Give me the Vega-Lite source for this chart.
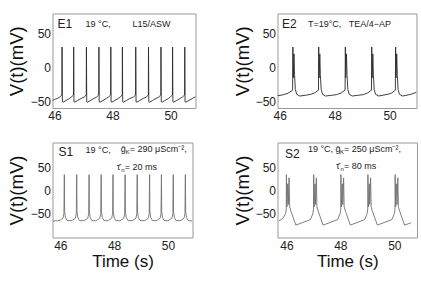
{
  "$schema": "https://vega.github.io/schema/vega-lite/v6.json",
  "padding": {"left": 6.5, "top": 12.5, "right": 5, "bottom": 5},
  "background": "white",
  "config": {
    "font": "Liberation Sans",
    "view": {"stroke": "#999", "strokeWidth": 1},
    "axis": {"ticks": false, "domain": false, "grid": false, "labelFontSize": 12, "labelColor": "#222", "titleFontWeight": "normal", "titleFontSize": 18.5, "titleColor": "#111", "labelFont": "Liberation Sans", "titleFont": "Liberation Sans"},
    "text": {"font": "Liberation Sans", "color": "#222"}
  },
  "datasets": {
    "e1": [
      {"t":45.93,"v":-48},{"t":46.0,"v":-46.5},{"t":46.1,"v":-45},{"t":46.18,"v":-43},{"t":46.254,"v":-40},{"t":46.26,"v":30},{"t":46.27,"v":-50},{"t":46.3,"v":-50.5},{"t":46.4,"v":-48},{"t":46.52,"v":-45},{"t":46.58,"v":-43},{"t":46.654,"v":-40},{"t":46.66,"v":30},{"t":46.67,"v":-50},{"t":46.7,"v":-50.5},{"t":46.8,"v":-48},{"t":46.92,"v":-45},{"t":47.02,"v":-43},{"t":47.094,"v":-40},{"t":47.1,"v":30},{"t":47.11,"v":-50},{"t":47.14,"v":-50.5},{"t":47.24,"v":-48},{"t":47.36,"v":-45},{"t":47.45,"v":-43},{"t":47.524,"v":-40},{"t":47.53,"v":30},{"t":47.54,"v":-50},{"t":47.57,"v":-50.5},{"t":47.67,"v":-48},{"t":47.79,"v":-45},{"t":47.86,"v":-43},{"t":47.934,"v":-40},{"t":47.94,"v":30},{"t":47.95,"v":-50},{"t":47.98,"v":-50.5},{"t":48.08,"v":-48},{"t":48.2,"v":-45},{"t":48.26,"v":-43},{"t":48.334,"v":-40},{"t":48.34,"v":30},{"t":48.35,"v":-50},{"t":48.38,"v":-50.5},{"t":48.48,"v":-48},{"t":48.6,"v":-45},{"t":48.72,"v":-43},{"t":48.794,"v":-40},{"t":48.8,"v":30},{"t":48.81,"v":-50},{"t":48.84,"v":-50.5},{"t":48.94,"v":-48},{"t":49.06,"v":-45},{"t":49.16,"v":-43},{"t":49.234,"v":-40},{"t":49.24,"v":30},{"t":49.25,"v":-50},{"t":49.28,"v":-50.5},{"t":49.38,"v":-48},{"t":49.5,"v":-45},{"t":49.59,"v":-43},{"t":49.664,"v":-40},{"t":49.67,"v":30},{"t":49.68,"v":-50},{"t":49.71,"v":-50.5},{"t":49.81,"v":-48},{"t":49.93,"v":-45},{"t":49.99,"v":-43},{"t":50.064,"v":-40},{"t":50.07,"v":30},{"t":50.08,"v":-50},{"t":50.11,"v":-50.5},{"t":50.21,"v":-48},{"t":50.33,"v":-45},{"t":50.41,"v":-43},{"t":50.484,"v":-40},{"t":50.49,"v":30},{"t":50.5,"v":-50},{"t":50.53,"v":-50.5},{"t":50.63,"v":-48},{"t":50.75,"v":-45},{"t":50.86,"v":-42.5}
    ],
    "e2": [
      {"t":45.92,"v":-41},{"t":46.1,"v":-40},{"t":46.3,"v":-37.5},{"t":46.47,"v":-33},{"t":46.48,"v":30},{"t":46.495,"v":-15},{"t":46.52,"v":20},{"t":46.54,"v":-10},{"t":46.57,"v":-32},{"t":46.62,"v":-39},{"t":46.73,"v":-41.5},{"t":46.93,"v":-40.5},{"t":47.13,"v":-39},{"t":47.27,"v":-37},{"t":47.41,"v":-33},{"t":47.42,"v":30},{"t":47.435,"v":-15},{"t":47.46,"v":20},{"t":47.48,"v":-10},{"t":47.51,"v":-32},{"t":47.56,"v":-39},{"t":47.67,"v":-41.5},{"t":47.87,"v":-40.5},{"t":48.07,"v":-39.5},{"t":48.24,"v":-37},{"t":48.38,"v":-33},{"t":48.39,"v":30},{"t":48.405,"v":-15},{"t":48.43,"v":20},{"t":48.45,"v":-10},{"t":48.48,"v":-32},{"t":48.53,"v":-39},{"t":48.64,"v":-41.5},{"t":48.84,"v":-40.5},{"t":49.04,"v":-39.5},{"t":49.2,"v":-37},{"t":49.34,"v":-33},{"t":49.35,"v":30},{"t":49.365,"v":-15},{"t":49.39,"v":20},{"t":49.41,"v":-10},{"t":49.44,"v":-32},{"t":49.49,"v":-39},{"t":49.6,"v":-41.5},{"t":49.8,"v":-40},{"t":49.98,"v":-38.5},{"t":50.08,"v":-37},{"t":50.21,"v":-33},{"t":50.22,"v":30},{"t":50.235,"v":-15},{"t":50.26,"v":20},{"t":50.28,"v":-10},{"t":50.31,"v":-32},{"t":50.36,"v":-39},{"t":50.47,"v":-41.5},{"t":50.67,"v":-40},{"t":50.85,"v":-38},{"t":50.98,"v":-36}
    ],
    "s1": [
      {"t":45.71,"v":-66},{"t":45.9,"v":-65.5},{"t":46.0,"v":-64},{"t":46.1,"v":-60},{"t":46.135,"v":-50},{"t":46.15,"v":35},{"t":46.16,"v":-45},{"t":46.19,"v":-58},{"t":46.25,"v":-65},{"t":46.4,"v":-65.5},{"t":46.46,"v":-64},{"t":46.56,"v":-60},{"t":46.595,"v":-50},{"t":46.61,"v":35},{"t":46.62,"v":-45},{"t":46.65,"v":-58},{"t":46.71,"v":-65},{"t":46.86,"v":-65.5},{"t":46.92,"v":-64},{"t":47.02,"v":-60},{"t":47.055,"v":-50},{"t":47.07,"v":35},{"t":47.08,"v":-45},{"t":47.11,"v":-58},{"t":47.17,"v":-65},{"t":47.32,"v":-65.5},{"t":47.37,"v":-64},{"t":47.47,"v":-60},{"t":47.505,"v":-50},{"t":47.52,"v":35},{"t":47.53,"v":-45},{"t":47.56,"v":-58},{"t":47.62,"v":-65},{"t":47.76,"v":-65.5},{"t":47.81,"v":-64},{"t":47.91,"v":-60},{"t":47.945,"v":-50},{"t":47.96,"v":35},{"t":47.97,"v":-45},{"t":48.0,"v":-58},{"t":48.06,"v":-65},{"t":48.21,"v":-65.5},{"t":48.26,"v":-64},{"t":48.36,"v":-60},{"t":48.395,"v":-50},{"t":48.41,"v":35},{"t":48.42,"v":-45},{"t":48.45,"v":-58},{"t":48.51,"v":-65},{"t":48.66,"v":-65.5},{"t":48.71,"v":-64},{"t":48.81,"v":-60},{"t":48.845,"v":-50},{"t":48.86,"v":35},{"t":48.87,"v":-45},{"t":48.9,"v":-58},{"t":48.96,"v":-65},{"t":49.12,"v":-65.5},{"t":49.17,"v":-64},{"t":49.27,"v":-60},{"t":49.305,"v":-50},{"t":49.32,"v":35},{"t":49.33,"v":-45},{"t":49.36,"v":-58},{"t":49.42,"v":-65},{"t":49.56,"v":-65.5},{"t":49.61,"v":-64},{"t":49.71,"v":-60},{"t":49.745,"v":-50},{"t":49.76,"v":35},{"t":49.77,"v":-45},{"t":49.8,"v":-58},{"t":49.86,"v":-65},{"t":50.0,"v":-65.5},{"t":50.05,"v":-64},{"t":50.15,"v":-60},{"t":50.185,"v":-50},{"t":50.2,"v":35},{"t":50.21,"v":-45},{"t":50.24,"v":-58},{"t":50.3,"v":-65},{"t":50.45,"v":-65.5},{"t":50.5,"v":-64},{"t":50.6,"v":-60},{"t":50.635,"v":-50},{"t":50.65,"v":35},{"t":50.66,"v":-45},{"t":50.69,"v":-58},{"t":50.75,"v":-65},{"t":50.9,"v":-66}
    ],
    "s2": [
      {"t":45.72,"v":-66},{"t":45.88,"v":-60},{"t":45.97,"v":-50},{"t":45.995,"v":-40},{"t":46.0,"v":35},{"t":46.02,"v":-35},{"t":46.05,"v":15},{"t":46.07,"v":-30},{"t":46.1,"v":28},{"t":46.12,"v":-35},{"t":46.17,"v":-45},{"t":46.35,"v":-75},{"t":46.89,"v":-63},{"t":46.98,"v":-50},{"t":47.005,"v":-40},{"t":47.01,"v":35},{"t":47.03,"v":-35},{"t":47.06,"v":15},{"t":47.08,"v":-30},{"t":47.11,"v":28},{"t":47.13,"v":-35},{"t":47.18,"v":-45},{"t":47.36,"v":-75},{"t":47.9,"v":-63},{"t":47.99,"v":-50},{"t":48.015,"v":-40},{"t":48.02,"v":35},{"t":48.04,"v":-35},{"t":48.07,"v":15},{"t":48.09,"v":-30},{"t":48.12,"v":28},{"t":48.14,"v":-35},{"t":48.19,"v":-45},{"t":48.37,"v":-75},{"t":48.9,"v":-63},{"t":48.99,"v":-50},{"t":49.015,"v":-40},{"t":49.02,"v":35},{"t":49.04,"v":-35},{"t":49.07,"v":15},{"t":49.09,"v":-30},{"t":49.12,"v":28},{"t":49.14,"v":-35},{"t":49.19,"v":-45},{"t":49.37,"v":-75},{"t":49.91,"v":-63},{"t":50.0,"v":-50},{"t":50.025,"v":-40},{"t":50.03,"v":35},{"t":50.05,"v":-35},{"t":50.08,"v":15},{"t":50.1,"v":-30},{"t":50.13,"v":28},{"t":50.15,"v":-35},{"t":50.2,"v":-45},{"t":50.38,"v":-75},{"t":50.62,"v":-70}
    ]
  },
  "columns": 2,
  "spacing": {"row": 34, "column": 82},
  "bounds": "flush",
  "concat": [
    {
      "width": 143, "height": 94.5,
      "layer": [
        {"data": {"name": "e1"}, "mark": {"type": "line", "color": "#2a2a2a", "strokeWidth": 0.9, "clip": true},
         "encoding": {
           "x": {"field": "t", "type": "quantitative", "scale": {"domain": [45.93, 50.86], "nice": false, "zero": false}, "axis": {"values": [46, 48, 50], "title": null, "labelPadding": 2}},
           "y": {"field": "v", "type": "quantitative", "scale": {"domain": [-59, 79], "nice": false, "zero": false}, "axis": {"values": [-50, 0, 50], "title": "V(t)(mV)", "labelPadding": 2, "titlePadding": 4}}
         }},
        {"data": {"values": [{}]}, "mark": {"type": "text", "align": "left", "baseline": "middle", "fontSize": 12},
         "encoding": {"x": {"datum": 46.1}, "y": {"datum": 64}, "text": {"value": "E1"}}},
        {"data": {"values": [{}]}, "mark": {"type": "text", "align": "left", "baseline": "middle", "fontSize": 9},
         "encoding": {"x": {"datum": 47.07}, "y": {"datum": 64}, "text": {"value": "19 °C,"}}},
        {"data": {"values": [{}]}, "mark": {"type": "text", "align": "left", "baseline": "middle", "fontSize": 9},
         "encoding": {"x": {"datum": 48.69}, "y": {"datum": 64}, "text": {"value": "L15/ASW"}}}
      ]
    },
    {
      "width": 139, "height": 94.5,
      "layer": [
        {"data": {"name": "e2"}, "mark": {"type": "line", "color": "#2a2a2a", "strokeWidth": 0.9, "clip": true},
         "encoding": {
           "x": {"field": "t", "type": "quantitative", "scale": {"domain": [45.92, 50.98], "nice": false, "zero": false}, "axis": {"values": [46, 48, 50], "title": null, "labelPadding": 2}},
           "y": {"field": "v", "type": "quantitative", "scale": {"domain": [-59, 79], "nice": false, "zero": false}, "axis": {"values": [-50, 0, 50], "title": "V(t)(mV)", "labelPadding": 2, "titlePadding": 3}}
         }},
        {"data": {"values": [{}]}, "mark": {"type": "text", "align": "left", "baseline": "middle", "fontSize": 12},
         "encoding": {"x": {"datum": 46.08}, "y": {"datum": 64}, "text": {"value": "E2"}}},
        {"data": {"values": [{}]}, "mark": {"type": "text", "align": "left", "baseline": "middle", "fontSize": 9},
         "encoding": {"x": {"datum": 47.03}, "y": {"datum": 64}, "text": {"value": "T=19°C,\u00a0\u00a0\u00a0TEA/4−AP"}}}
      ]
    },
    {
      "width": 140, "height": 95,
      "layer": [
        {"data": {"name": "s1"}, "mark": {"type": "line", "color": "#707070", "strokeWidth": 0.9, "clip": true},
         "encoding": {
           "x": {"field": "t", "type": "quantitative", "scale": {"domain": [45.71, 50.915], "nice": false, "zero": false}, "axis": {"values": [46, 48, 50], "title": "Time (s)", "titleFontSize": 17, "labelPadding": 3, "titlePadding": 2}},
           "y": {"field": "v", "type": "quantitative", "scale": {"domain": [-102, 105], "nice": false, "zero": false}, "axis": {"values": [-50, 0, 50], "title": "V(t)(mV)", "labelPadding": 2, "titlePadding": 4}}
         }},
        {"data": {"values": [{}]}, "mark": {"type": "text", "align": "left", "baseline": "middle", "fontSize": 12},
         "encoding": {"x": {"datum": 45.93}, "y": {"datum": 84}, "text": {"value": "S1"}}},
        {"data": {"values": [{}]}, "mark": {"type": "text", "align": "left", "baseline": "middle", "fontSize": 9},
         "encoding": {"x": {"datum": 46.94}, "y": {"datum": 89}, "text": {"value": "19 °C,"}}},
        {"data": {"values": [{}]}, "mark": {"type": "text", "align": "left", "baseline": "middle", "fontSize": 9},
         "encoding": {"x": {"datum": 48.25}, "y": {"datum": 91}, "text": {"value": "ḡ"}}},
        {"data": {"values": [{}]}, "mark": {"type": "text", "align": "left", "baseline": "middle", "fontSize": 6, "dx": 5, "dy": 3},
         "encoding": {"x": {"datum": 48.25}, "y": {"datum": 91}, "text": {"value": "K"}}},
        {"data": {"values": [{}]}, "mark": {"type": "text", "align": "left", "baseline": "middle", "fontSize": 9, "dx": 9},
         "encoding": {"x": {"datum": 48.25}, "y": {"datum": 91}, "text": {"value": "= 290 μScm⁻²,"}}},
        {"data": {"values": [{}]}, "mark": {"type": "text", "align": "left", "baseline": "middle", "fontSize": 9},
         "encoding": {"x": {"datum": 48.1}, "y": {"datum": 52}, "text": {"value": "τ̄"}}},
        {"data": {"values": [{}]}, "mark": {"type": "text", "align": "left", "baseline": "middle", "fontSize": 6, "dx": 4.5, "dy": 3},
         "encoding": {"x": {"datum": 48.1}, "y": {"datum": 52}, "text": {"value": "n"}}},
        {"data": {"values": [{}]}, "mark": {"type": "text", "align": "left", "baseline": "middle", "fontSize": 9, "dx": 8},
         "encoding": {"x": {"datum": 48.1}, "y": {"datum": 52}, "text": {"value": "= 20 ms"}}}
      ]
    },
    {
      "width": 139.5, "height": 95,
      "layer": [
        {"data": {"name": "s2"}, "mark": {"type": "line", "color": "#707070", "strokeWidth": 0.9, "clip": true},
         "encoding": {
           "x": {"field": "t", "type": "quantitative", "scale": {"domain": [45.67, 50.84], "nice": false, "zero": false}, "axis": {"values": [46, 48, 50], "title": "Time (s)", "titleFontSize": 17, "labelPadding": 3, "titlePadding": 2}},
           "y": {"field": "v", "type": "quantitative", "scale": {"domain": [-102, 105], "nice": false, "zero": false}, "axis": {"values": [-50, 0, 50], "title": "V(t)(mV)", "labelPadding": 2, "titlePadding": 3}}
         }},
        {"data": {"values": [{}]}, "mark": {"type": "text", "align": "left", "baseline": "middle", "fontSize": 12},
         "encoding": {"x": {"datum": 45.95}, "y": {"datum": 80}, "text": {"value": "S2"}}},
        {"data": {"values": [{}]}, "mark": {"type": "text", "align": "left", "baseline": "middle", "fontSize": 9},
         "encoding": {"x": {"datum": 46.8}, "y": {"datum": 91}, "text": {"value": "19 °C, ḡ"}}},
        {"data": {"values": [{}]}, "mark": {"type": "text", "align": "left", "baseline": "middle", "fontSize": 6, "dx": 32, "dy": 3},
         "encoding": {"x": {"datum": 46.8}, "y": {"datum": 91}, "text": {"value": "K"}}},
        {"data": {"values": [{}]}, "mark": {"type": "text", "align": "left", "baseline": "middle", "fontSize": 9, "dx": 36},
         "encoding": {"x": {"datum": 46.8}, "y": {"datum": 91}, "text": {"value": "= 250 μScm⁻²,"}}},
        {"data": {"values": [{}]}, "mark": {"type": "text", "align": "left", "baseline": "middle", "fontSize": 9},
         "encoding": {"x": {"datum": 47.84}, "y": {"datum": 54}, "text": {"value": "τ̄"}}},
        {"data": {"values": [{}]}, "mark": {"type": "text", "align": "left", "baseline": "middle", "fontSize": 6, "dx": 4.5, "dy": 3},
         "encoding": {"x": {"datum": 47.84}, "y": {"datum": 54}, "text": {"value": "n"}}},
        {"data": {"values": [{}]}, "mark": {"type": "text", "align": "left", "baseline": "middle", "fontSize": 9, "dx": 8},
         "encoding": {"x": {"datum": 47.84}, "y": {"datum": 54}, "text": {"value": "= 80 ms"}}}
      ]
    }
  ]
}
